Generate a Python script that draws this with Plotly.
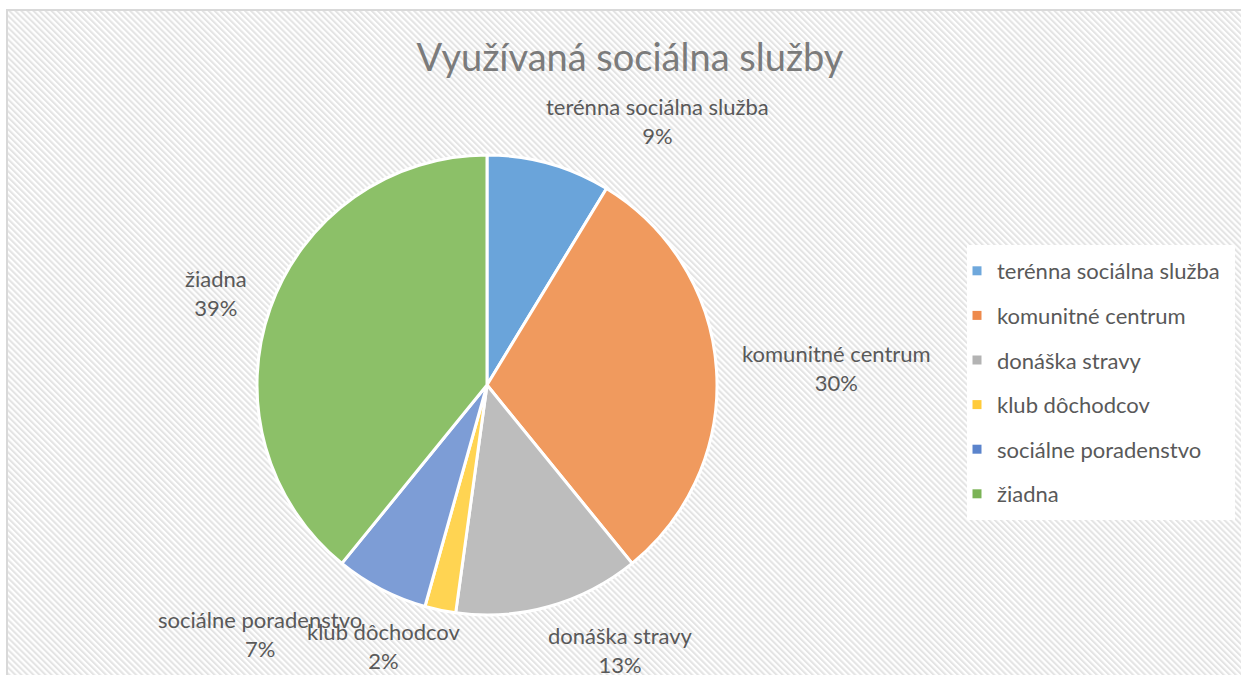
import base64
import plotly.graph_objects as go

# ---- data ----
categories = ["terénna sociálna služba", "komunitné centrum", "donáška stravy",
              "klub dôchodcov", "sociálne poradenstvo", "žiadna"]
counts = [4, 14, 6, 1, 3, 18]
title_text = "Využívaná sociálna služby"

# ---- style ----
W, H = 1241, 675
slice_colors = ["#6aa4da", "#f09a5e", "#bdbdbd", "#ffd452", "#7d9dd6", "#8cc068"]
legend_colors = ["#6fa8dc", "#ee8a4c", "#b3b3b3", "#ffcb3a", "#5b84cc", "#7bb356"]
text_color = "#595959"
FONT = "Lato"
total = sum(counts)

# label placement (pixel centres of label blocks)
label_px = [(657, 121), (836, 368), (620, 650), (383, 646), (260, 634), (216, 293)]

fig = go.Figure()

fig.add_trace(go.Pie(
    labels=categories, values=counts, sort=False, direction="clockwise", rotation=0,
    marker=dict(colors=slice_colors, line=dict(color="white", width=3)),
    textinfo="none", hoverinfo="label+percent", showlegend=False,
    domain=dict(x=[(487 - 230) / W, (487 + 230) / W], y=[1 - 615 / H, 1 - 155 / H]),
))

# legend entries
for cat, col in zip(categories, legend_colors):
    fig.add_trace(go.Scatter(x=[None], y=[None], mode="markers", name=cat, legendgroup=cat,
                             marker=dict(symbol="square", size=9, color=col)))

# labels
for cat, v, (px, py) in zip(categories, counts, label_px):
    fig.add_annotation(x=px / W, y=1 - py / H, xref="paper", yref="paper",
                       text=f"{cat}<br>{round(100 * v / total)}%", showarrow=False,
                       font=dict(family=FONT, size=22, color=text_color),
                       align="center", xanchor="center", yanchor="middle")

# hatched background
svg = f'''<svg xmlns="http://www.w3.org/2000/svg" width="{W}" height="{H}">
<defs><pattern id="p" width="4.3" height="4.3" patternUnits="userSpaceOnUse" patternTransform="rotate(-45)">
<rect x="0" y="0" width="2.1" height="4.3" fill="#e4e4e4"/></pattern></defs>
<rect x="0" y="0" width="{W}" height="{H}" fill="#ffffff"/>
<rect x="0" y="0" width="{W}" height="{H}" fill="url(#p)"/></svg>'''
uri = "data:image/svg+xml;base64," + base64.b64encode(svg.encode()).decode()
fig.add_layout_image(source=uri, xref="paper", yref="paper", x=8 / W, y=1 - 11 / H,
                     sizex=1 - 8 / W, sizey=1 - 11 / H, xanchor="left", yanchor="top",
                     sizing="stretch", layer="below")
fig.add_shape(type="rect", xref="paper", yref="paper", x0=7 / W, x1=1.01, y0=-0.01, y1=1 - 10 / H,
              line=dict(color="#d9d9d9", width=2), layer="above")
# legend white box
fig.add_shape(type="rect", xref="paper", yref="paper", x0=967 / W, x1=1235 / W,
              y0=1 - 520 / H, y1=1 - 245 / H, line=dict(width=0), fillcolor="white", layer="below")

fig.update_layout(
    width=W, height=H, margin=dict(l=0, r=0, t=0, b=0),
    paper_bgcolor="white", plot_bgcolor="rgba(0,0,0,0)",
    xaxis=dict(visible=False), yaxis=dict(visible=False),
    title=dict(text=title_text, x=630 / W, xanchor="center", y=1 - 58 / H, yanchor="middle",
               font=dict(family=FONT, size=38, color="#7b7b7b")),
    legend=dict(x=957 / W, y=1 - 250 / H, xanchor="left", yanchor="top",
                bgcolor="rgba(0,0,0,0)", font=dict(family=FONT, size=22, color=text_color),
                tracegroupgap=13, itemwidth=30, borderwidth=0),
    font=dict(family=FONT),
)

fig.write_html("out.html", config={"displayModeBar": False},
               post_script="document.body.style.margin='0';document.body.style.overflow='hidden';")
